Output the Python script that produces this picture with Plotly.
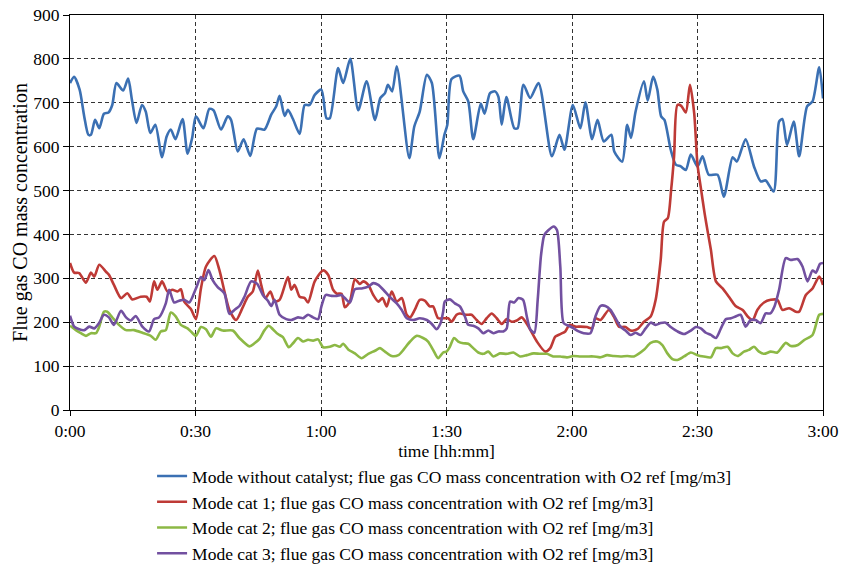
import plotly.graph_objects as go

# ---- data (time in minutes from start, value in mg/m3) ----
blue_t = [0, 1.0, 2.3, 3.4, 4.4, 5.0, 6.0, 7.0, 8.1, 9.2, 10.1, 11.1, 12.7, 13.9, 14.8, 15.9, 17.2, 18.1, 19.2, 20.4, 22.0, 23.1, 24.1, 25.2, 26.9, 28.1, 29.2, 30.1, 31.9, 33.3, 34.3, 36.1, 37.7, 38.5, 40.1, 41.5, 43.1, 44.7, 46.5, 48.1, 49.3, 50.1, 51.3, 52.1, 53.3, 54.9, 56.1, 57.3, 58.5, 60.1, 61.3, 62.1, 64.1, 65.3, 67.0, 68.9, 70.9, 72.9, 74.2, 75.3, 76.0, 77.0, 78.1, 81.1, 82.3, 83.6, 85.3, 86.5, 88.3, 89.5, 90.2, 91.2, 93.1, 94.0, 95.2, 96.4, 98.2, 99.1, 100.4, 101.6, 102.4, 103.2, 104.3, 106.2, 107.0, 108.4, 110.0, 112.0, 115.2, 117.0, 118.2, 120.2, 122.0, 123.2, 124.8, 126.1, 127.6, 129.4, 130.1, 132.0, 133.2, 134.1, 135.2, 137.2, 138.1, 139.4, 140.4, 141.3, 142.1, 143.6, 144.8, 146.0, 147.2, 148.4, 150.0, 151.2, 152.7, 154.8, 156.3, 158.4, 159.4, 161.5, 163.5, 165.1, 166.3, 168.2, 169.5, 170.3, 171.4, 173.0, 174.3, 176.2, 177.5, 179.1, 180]
blue_v = [745, 759, 730, 669, 627, 627, 661, 642, 675, 678, 695, 745, 728, 755, 707, 654, 695, 680, 631, 650, 576, 623, 639, 617, 663, 584, 620, 669, 642, 686, 683, 639, 669, 661, 589, 617, 579, 641, 639, 673, 692, 716, 670, 684, 663, 629, 695, 695, 718, 730, 665, 665, 779, 745, 800, 683, 749, 661, 711, 722, 741, 726, 783, 574, 646, 680, 764, 745, 574, 627, 650, 754, 762, 726, 703, 617, 698, 675, 722, 726, 714, 650, 713, 642, 642, 741, 711, 745, 578, 627, 593, 695, 642, 701, 617, 661, 612, 627, 589, 566, 650, 620, 680, 749, 705, 760, 730, 669, 661, 593, 559, 555, 547, 582, 555, 578, 536, 536, 486, 576, 566, 617, 555, 521, 523, 498, 657, 663, 604, 657, 578, 692, 703, 781, 710]

red_t = [0, 1.0, 2.2, 3.8, 5.0, 5.8, 7.0, 8.6, 9.3, 10.5, 12.2, 13.7, 14.9, 16.9, 18.3, 19.1, 20.1, 20.9, 22.0, 23.3, 24.5, 25.7, 26.5, 27.3, 28.9, 30.1, 31.3, 32.5, 34.5, 35.7, 38.1, 39.7, 41.2, 42.5, 43.7, 44.9, 45.7, 46.7, 47.9, 48.9, 50.1, 52.1, 52.9, 53.7, 54.9, 56.1, 56.9, 58.5, 60.5, 61.7, 62.9, 63.8, 64.9, 65.7, 66.9, 68.1, 69.3, 70.1, 71.3, 72.5, 73.7, 74.7, 75.7, 76.9, 78.1, 79.3, 80.5, 81.3, 82.4, 83.6, 84.8, 86.0, 86.8, 88.0, 89.2, 90.4, 91.2, 92.4, 93.2, 94.8, 96.0, 97.2, 98.4, 99.6, 100.8, 102.0, 103.2, 104.4, 105.6, 106.8, 108.0, 109.6, 111.6, 113.6, 114.8, 116.0, 117.2, 118.4, 119.4, 120.8, 122.0, 123.6, 124.8, 125.6, 126.8, 128.8, 130.0, 131.2, 132.8, 134.0, 135.6, 137.2, 138.8, 140.0, 141.2, 142.0, 142.9, 143.7, 144.4, 145.2, 146.1, 147.2, 148.2, 149.2, 150.0, 150.8, 151.7, 152.5, 153.2, 154.4, 156.0, 157.5, 159.1, 160.8, 162.0, 163.2, 164.3, 165.9, 167.5, 169.1, 170.3, 171.9, 173.5, 174.3, 175.9, 177.5, 179.1, 180]
red_v = [335, 313, 312, 290, 313, 304, 331, 315, 308, 285, 255, 266, 252, 258, 258, 247, 293, 274, 293, 270, 274, 270, 275, 247, 230, 207, 277, 327, 351, 319, 228, 205, 232, 258, 270, 318, 285, 255, 270, 247, 251, 303, 274, 285, 258, 255, 245, 293, 318, 308, 274, 265, 265, 234, 247, 298, 287, 293, 285, 262, 247, 255, 236, 270, 247, 255, 217, 211, 228, 251, 249, 236, 236, 209, 209, 209, 201, 217, 220, 217, 217, 205, 196, 209, 220, 209, 196, 207, 201, 204, 211, 190, 156, 133, 141, 167, 173, 179, 194, 190, 190, 189, 186, 209, 205, 228, 213, 190, 189, 181, 184, 201, 213, 251, 342, 429, 437, 502, 578, 695, 693, 678, 741, 677, 559, 506, 448, 403, 365, 293, 277, 258, 237, 228, 213, 205, 228, 245, 251, 251, 228, 232, 224, 224, 262, 277, 304, 285]

green_t = [0, 1.4, 2.6, 3.8, 5.0, 6.2, 7.0, 8.1, 8.9, 10.1, 11.7, 13.4, 15.3, 17.3, 19.3, 20.5, 21.7, 22.9, 24.1, 25.3, 26.5, 28.1, 29.3, 30.1, 31.3, 32.5, 33.7, 34.9, 36.5, 38.9, 40.5, 42.9, 44.1, 45.3, 46.5, 47.5, 48.5, 49.7, 50.9, 52.3, 53.3, 54.5, 55.7, 56.9, 58.1, 59.3, 60.5, 62.1, 63.3, 64.5, 65.3, 66.5, 68.1, 69.7, 71.3, 72.9, 74.1, 75.3, 76.9, 78.5, 79.7, 81.3, 82.9, 84.4, 85.6, 86.8, 88.0, 89.2, 90.0, 90.8, 91.8, 92.8, 94.0, 95.2, 96.4, 97.6, 98.8, 100.0, 101.2, 102.8, 104.4, 106.0, 107.6, 109.2, 110.8, 112.4, 114.0, 115.5, 117.2, 118.8, 120.3, 122.0, 123.6, 125.2, 126.8, 128.4, 130.0, 131.6, 133.2, 134.8, 137.2, 138.8, 140.4, 141.6, 142.8, 144.0, 145.2, 146.8, 148.4, 150.0, 151.5, 153.2, 154.4, 155.6, 157.2, 158.4, 159.6, 161.1, 162.3, 163.5, 164.7, 165.9, 167.5, 169.1, 171.1, 172.3, 174.0, 175.6, 177.5, 179.1, 180]
green_v = [192, 182, 175, 169, 175, 175, 190, 224, 224, 211, 194, 182, 182, 176, 169, 160, 179, 182, 222, 213, 194, 186, 175, 169, 189, 184, 167, 186, 181, 181, 164, 145, 152, 162, 182, 192, 184, 173, 166, 143, 152, 164, 156, 160, 158, 161, 143, 144, 148, 144, 151, 138, 129, 118, 128, 135, 141, 133, 123, 125, 137, 156, 169, 164, 156, 137, 118, 131, 133, 144, 164, 156, 152, 151, 141, 131, 128, 133, 122, 129, 128, 131, 122, 125, 129, 128, 128, 122, 122, 120, 123, 122, 122, 122, 120, 125, 123, 122, 123, 122, 137, 153, 156, 148, 129, 116, 114, 122, 131, 125, 122, 120, 141, 141, 144, 129, 123, 133, 137, 144, 133, 128, 133, 131, 153, 146, 148, 160, 171, 217, 219]

purple_t = [0, 1.0, 2.2, 3.4, 4.6, 5.8, 7.0, 8.1, 9.3, 10.5, 12.2, 13.4, 14.5, 15.7, 17.3, 18.9, 20.1, 21.3, 22.9, 23.7, 24.9, 26.1, 27.3, 28.5, 30.1, 31.3, 32.1, 33.1, 34.1, 35.3, 36.9, 38.1, 39.3, 40.5, 41.7, 43.3, 44.7, 46.1, 47.3, 48.1, 48.9, 50.1, 51.7, 52.9, 54.5, 55.7, 56.9, 58.1, 59.3, 60.1, 61.1, 62.5, 63.8, 64.9, 65.7, 66.9, 68.1, 69.7, 71.3, 72.5, 73.7, 74.9, 76.5, 78.1, 79.3, 80.5, 82.0, 83.6, 85.3, 86.5, 87.6, 88.6, 89.2, 89.6, 90.8, 92.0, 93.2, 94.4, 95.2, 96.4, 97.6, 98.8, 100.0, 101.2, 102.4, 103.6, 104.4, 105.2, 106.2, 107.2, 108.3, 109.2, 110.0, 111.0, 111.8, 112.6, 113.4, 114.4, 115.6, 116.4, 117.2, 118.0, 119.2, 120.4, 121.6, 122.8, 124.4, 125.6, 126.8, 128.0, 129.2, 130.4, 131.6, 132.8, 134.0, 135.2, 136.4, 137.6, 138.8, 140.0, 141.2, 142.4, 143.6, 145.2, 146.8, 148.4, 149.6, 150.8, 152.0, 153.2, 154.4, 155.6, 156.8, 158.0, 159.1, 160.3, 161.5, 162.7, 163.9, 165.1, 166.3, 167.4, 168.4, 169.5, 171.1, 172.3, 173.9, 175.1, 176.3, 177.5, 178.3, 179.3, 180]
purple_v = [215, 190, 184, 182, 190, 186, 199, 217, 211, 194, 226, 211, 204, 214, 190, 179, 207, 211, 243, 274, 245, 249, 251, 245, 277, 303, 296, 319, 296, 280, 266, 219, 228, 237, 258, 293, 288, 262, 249, 237, 251, 217, 207, 205, 211, 209, 217, 211, 207, 236, 262, 260, 260, 262, 255, 245, 275, 277, 281, 289, 285, 274, 257, 243, 228, 209, 205, 209, 205, 196, 184, 198, 224, 247, 252, 243, 236, 213, 194, 192, 186, 175, 181, 175, 179, 179, 186, 247, 245, 255, 251, 213, 184, 176, 251, 353, 399, 410, 418, 410, 327, 198, 192, 186, 179, 175, 175, 213, 237, 237, 228, 209, 190, 181, 171, 176, 171, 186, 199, 194, 198, 199, 189, 179, 173, 181, 189, 186, 176, 171, 164, 186, 207, 209, 213, 217, 190, 205, 205, 198, 220, 220, 236, 274, 346, 342, 344, 327, 293, 318, 313, 333, 335]

tick_vals = [0, 30, 60, 90, 120, 150, 180]
tick_text = ["0:00", "0:30", "1:00", "1:30", "2:00", "2:30", "3:00"]

series_names = [
    "Mode without catalyst; flue gas CO mass concentration with O2 ref [mg/m3]",
    "Mode cat 1; flue gas CO mass concentration with O2 ref [mg/m3]",
    "Mode cat 2; flue gas CO mass concentration with O2 ref [mg/m3]",
    "Mode cat 3; flue gas CO mass concentration with O2 ref [mg/m3]",
]
series_colors = ["#3B70B3", "#BE3A36", "#8CB845", "#7250A0"]

series = [(blue_t, blue_v), (red_t, red_v), (green_t, green_v), (purple_t, purple_v)]
for t, v in series:
    assert len(t) == len(v), (len(t), len(v))

FONT = "Liberation Serif"

fig = go.Figure()
for (t, v), name, col in zip(series, series_names, series_colors):
    fig.add_trace(go.Scatter(
        x=t, y=v, mode="lines", name=name,
        line=dict(color=col, width=2.6, shape="spline", smoothing=0.7),
    ))

fig.update_layout(
    width=842, height=565,
    margin=dict(l=70, r=19, t=15, b=155, autoexpand=False),
    paper_bgcolor="white", plot_bgcolor="white",
    font=dict(family=FONT, size=17.5, color="black"),
    showlegend=True,
    legend=dict(
        orientation="v", x=0.109, xanchor="left", y=-0.122, yanchor="top",
        font=dict(family=FONT, size=17.5, color="black"),
        itemwidth=30, tracegroupgap=0, bgcolor="rgba(0,0,0,0)",
    ),
)
fig.update_xaxes(
    range=[0, 180], tickvals=tick_vals, ticktext=tick_text,
    showline=True, linecolor="black", linewidth=1.2, mirror=True,
    showgrid=True, gridcolor="#333333", gridwidth=1, griddash="4px,3px",
    ticks="outside", ticklen=5, tickcolor="black", zeroline=False,
    ticklabeloverflow="allow",
    tickfont=dict(family=FONT, size=17.5, color="black"),
    title=dict(text="time [hh:mm]", font=dict(family=FONT, size=17.5, color="black"), standoff=3),
)
fig.update_yaxes(
    range=[0, 900], dtick=100, tick0=0,
    showline=True, linecolor="black", linewidth=1.2, mirror=True,
    showgrid=True, gridcolor="#333333", gridwidth=1, griddash="4px,3px",
    ticks="outside", ticklen=6, tickcolor="black", zeroline=False,
    ticklabeloverflow="allow",
    tickfont=dict(family=FONT, size=17.5, color="black"),
    title=dict(text="Flue gas CO mass concentration", font=dict(family=FONT, size=20, color="black"), standoff=0),
)

# remove the browser's default 8px page margin so the figure fills the window exactly
fig.write_html(
    "out.html",
    config={"displayModeBar": False},
    post_script="document.body.style.margin='0';",
)
